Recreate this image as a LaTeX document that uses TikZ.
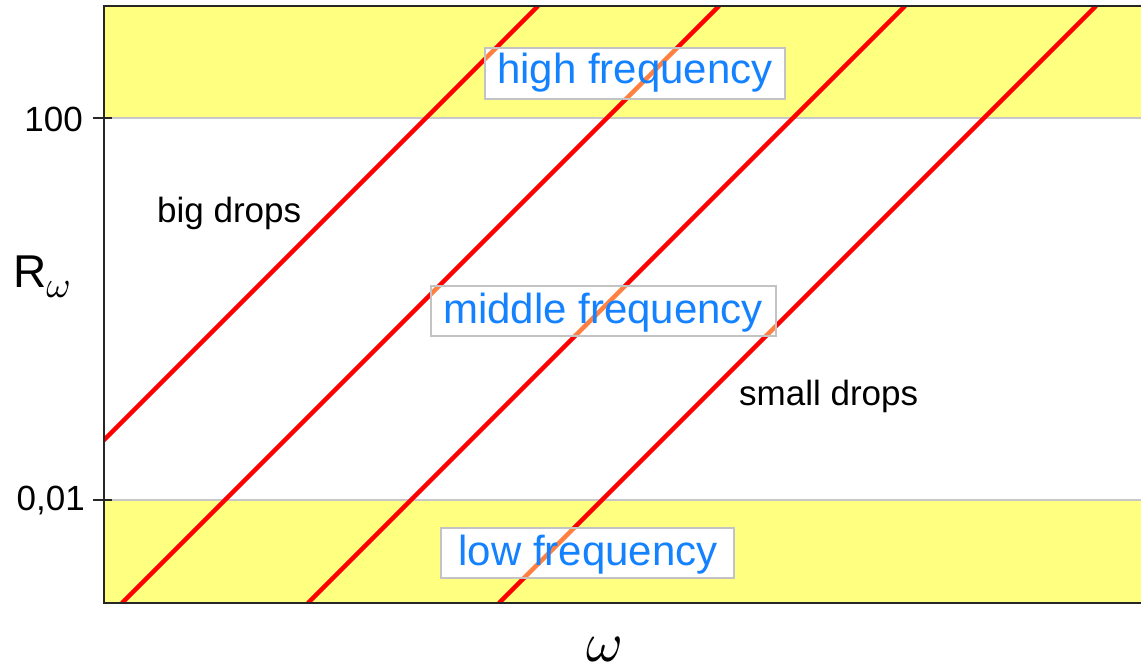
\documentclass[tikz,border=0pt]{standalone}
\usepackage{fontspec}
\setmainfont{Liberation Sans}
\definecolor{bandyellow}{RGB}{255,255,128}
\definecolor{linered}{RGB}{255,0,0}
\definecolor{lineorange}{RGB}{255,128,64}
\definecolor{labelblue}{RGB}{20,130,255}
\definecolor{gridgray}{RGB}{200,200,200}
\definecolor{boxgray}{RGB}{195,195,195}
\newcommand\dropLines[1]{\foreach \b in {-59,122,308,499} {\draw[#1] (\b,603) -- ++(597,-597);}}
\begin{document}
\begin{tikzpicture}[x=1pt,y=-1pt,
  redline/.style={linered, line width=4.5pt},
  orangeline/.style={lineorange, line width=4.5pt},
  gridline/.style={gridgray, line width=1.5pt},
  axisline/.style={black!85, line width=2pt},
  labelbox/.style={fill=white, inner sep=0pt, draw=none},
  boxframe/.style={boxgray, line width=1.5pt},
  bluelabel/.style={text=labelblue, font=\fontsize{42}{42}\selectfont, inner sep=0pt, anchor=base},
  blacklabel/.style={text=black, font=\fontsize{35}{35}\selectfont, inner sep=0pt},
  ticklabel/.style={text=black, font=\fontsize{35}{35}\selectfont, inner sep=0pt, anchor=east}]
\useasboundingbox (0,0) rectangle (1141,670);
% bands
\fill[bandyellow] (104,6) rectangle (1141,118);
\fill[bandyellow] (104,500) rectangle (1141,603);
\draw[gridline] (104,118) -- (1141,118);
\draw[gridline] (104,500) -- (1141,500);
% red lines
\begin{scope}
  \clip (104,6) rectangle (1141,603);
  \dropLines{redline}
\end{scope}
% label boxes
\node[labelbox, minimum width=300pt, minimum height=51pt] (hfbox) at (635,73.5) {};
\node[labelbox, minimum width=345pt, minimum height=50pt] (mfbox) at (603.5,311) {};
\node[labelbox, minimum width=293pt, minimum height=50pt] (lfbox) at (587.5,553) {};
\foreach \bx in {hfbox,mfbox,lfbox} {
  \begin{scope}
    \clip (\bx.south west) rectangle (\bx.north east);
    \dropLines{orangeline}
  \end{scope}
  \draw[boxframe] (\bx.south west) rectangle (\bx.north east);
}
\node[bluelabel] (hftext) at (635,83) {high frequency};
\node[bluelabel] (mftext) at (603,323) {middle frequency};
\node[bluelabel] (lftext) at (588,565) {low frequency};
% axes
\draw[axisline] (104,6) -- (1141,6);
\draw[axisline] (104,603) -- (1141,603);
\draw[axisline] (104,5) -- (104,604);
\draw[axisline] (93,118) -- (112,118);
\draw[axisline] (93,500) -- (112,500);
\node[ticklabel] (t100) at (83,119) {100};
\node[ticklabel] (t001) at (85,501) {0,01};
% texts
\node[blacklabel, anchor=base west] (big) at (157,222) {big drops};
\node[blacklabel, anchor=base west] (small) at (739,405) {small drops};
\node[inner sep=0pt, anchor=base west] (ylab) at (13,287) {\fontsize{46}{46}\selectfont R\raisebox{-10pt}{\fontsize{10}{10}\selectfont\scalebox{3.7}{$\omega$}}};
\node[inner sep=0pt, anchor=base] (xlab) at (605,661) {\fontsize{10}{10}\selectfont\scalebox{5.6}{$\omega$}};
\end{tikzpicture}
\end{document}
